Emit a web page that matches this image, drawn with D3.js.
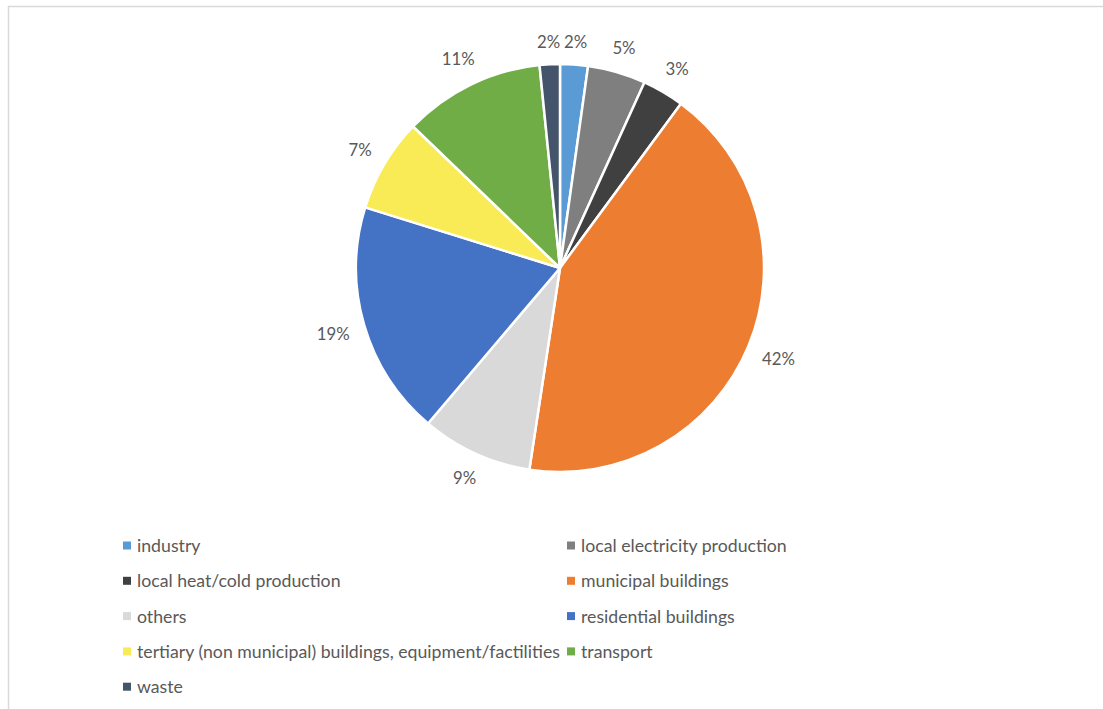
<!DOCTYPE html>
<html>
<head>
<meta charset="utf-8">
<script src="https://cdn.jsdelivr.net/npm/d3@7"></script>
<style>
  html, body { margin: 0; padding: 0; background: #fff; }
  svg { display: block; }
  text { font-family: Lato, "Open Sans", sans-serif; fill: #595959; }
</style>
</head>
<body>
<svg id="chart" width="1103" height="709"></svg>
<script>
// Share of emissions by sector (percent)
const categories = [
  "industry",
  "local electricity production",
  "local heat/cold production",
  "municipal buildings",
  "others",
  "residential buildings",
  "tertiary (non municipal) buildings, equipment/factilities",
  "transport",
  "waste"
];
const shares = [2.2, 4.6, 3.3, 42.3, 8.8, 18.6, 7.4, 11.2, 1.6];
const sliceColors = ["#5B9BD5", "#7F7F7F", "#404040", "#ED7D31", "#D9D9D9",
                     "#4472C4", "#F9EB55", "#70AD47", "#44546A"];

const W = 1103, H = 709;
const svg = d3.select("#chart");

// chart area frame
svg.append("rect")
  .attr("x", 8.5).attr("y", 6.5)
  .attr("width", W + 10).attr("height", H + 10)
  .attr("fill", "none").attr("stroke", "#D9D9D9").attr("stroke-width", 1.5);

const cx = 560, cy = 268, R = 204;
const labelSize = 16.8;
const legendSize = 17.7;

const color = d3.scaleOrdinal().domain(categories).range(sliceColors);
const pie = d3.pie().sort(null).value(d => d.v);
const data = categories.map((c, i) => ({ c, v: shares[i] }));
const arcs = pie(data);
const arc = d3.arc().innerRadius(0).outerRadius(R);
const pct = d3.format(".0%");

const g = svg.append("g").attr("transform", `translate(${cx},${cy})`);

g.selectAll("path.slice")
  .data(arcs)
  .join("path")
  .attr("class", "slice")
  .attr("d", arc)
  .attr("fill", d => color(d.data.c))
  .attr("stroke", "#fff")
  .attr("stroke-width", 2.5)
  .attr("stroke-linejoin", "round");

// percentage labels placed just outside each slice
const labels = g.selectAll("text.lbl")
  .data(arcs)
  .join("text")
  .attr("class", "lbl")
  .attr("font-size", labelSize)
  .attr("text-anchor", "middle")
  .attr("dominant-baseline", "central")
  .text(d => pct(d.data.v / 100));

labels.each(function(d) {
  const a = (d.startAngle + d.endAngle) / 2;
  const w = this.getComputedTextLength();
  const hw = w / 2, hh = labelSize * 0.5;
  const s = Math.sin(a), c = -Math.cos(a);
  const r = R + 14 + hw * Math.abs(s) + hh * Math.abs(c);
  d3.select(this).attr("x", r * s).attr("y", r * c);
});

// legend in two columns
const colX = [123, 567];
const rowY0 = 545.5, rowStep = 35.3;
const legend = svg.append("g");
const items = legend.selectAll("g.item")
  .data(categories)
  .join("g")
  .attr("class", "item")
  .attr("transform", (d, i) => `translate(${colX[i % 2]},${rowY0 + Math.floor(i / 2) * rowStep})`);

items.append("rect")
  .attr("x", 0).attr("y", -4)
  .attr("width", 8).attr("height", 8)
  .attr("fill", d => color(d));

items.append("text")
  .attr("x", 14)
  .attr("y", 0)
  .attr("dominant-baseline", "central")
  .attr("font-size", legendSize)
  .text(d => d);
</script>
</body>
</html>
